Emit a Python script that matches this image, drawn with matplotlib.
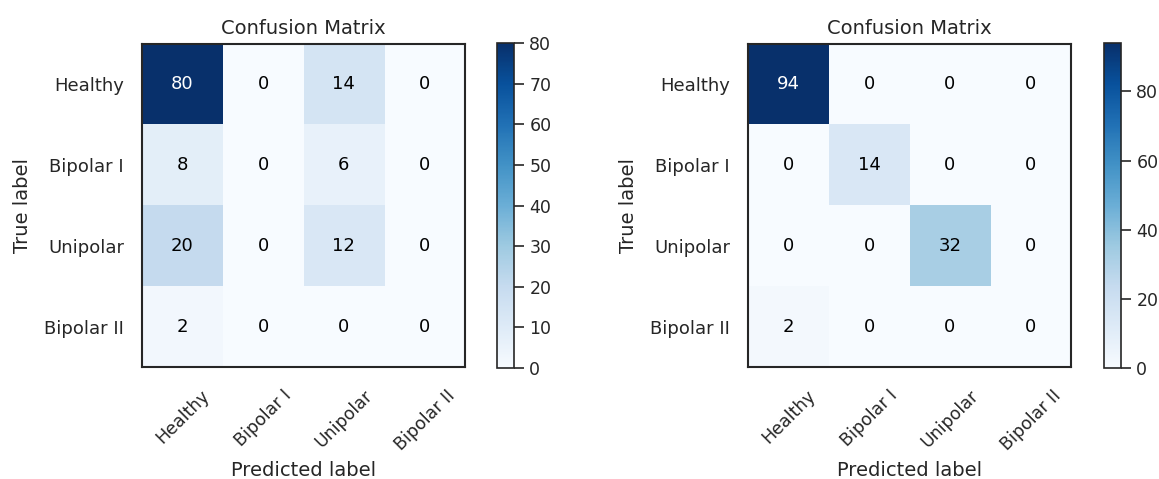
import matplotlib
matplotlib.use("Agg")
import matplotlib.pyplot as plt
import seaborn as sns
import numpy as np

sns.set_style("white")
plt.rcParams['font.family'] = ['DejaVu Sans']

classes = ["Healthy", "Bipolar I", "Unipolar", "Bipolar II"]

cm_left = np.array([[80, 0, 14, 0],
                    [8, 0, 6, 0],
                    [20, 0, 12, 0],
                    [2, 0, 0, 0]])

cm_right = np.array([[94, 0, 0, 0],
                     [0, 14, 0, 0],
                     [0, 0, 32, 0],
                     [2, 0, 0, 0]])


def plot_cm(fig, cm, ax_rect, cb_rect):
    ax = fig.add_axes(ax_rect)
    cax = fig.add_axes(cb_rect)
    im = ax.imshow(cm, interpolation='nearest', cmap=plt.cm.Blues)
    ax.set_title("Confusion Matrix", fontsize=14, color='.15', pad=7)
    cb = fig.colorbar(im, cax=cax)
    cb.ax.tick_params(labelsize=12.5, length=7, width=1.2, pad=4, colors='.15')
    cb.outline.set_linewidth(1.2)
    cb.outline.set_edgecolor('.15')
    ticks = np.arange(len(classes))
    ax.set_xticks(ticks)
    ax.set_xticklabels(classes, rotation=45, fontsize=12.5)
    ax.set_yticks(ticks)
    ax.set_yticklabels(classes, fontsize=13)
    ax.tick_params(axis='y', length=0, pad=13, colors='.15')
    ax.tick_params(axis='x', length=0, pad=14, colors='.15')
    thresh = cm.max() / 2.
    for i in range(cm.shape[0]):
        for j in range(cm.shape[1]):
            ax.text(j, i, format(cm[i, j], 'd'),
                    ha="center", va="center", fontsize=13,
                    color="white" if cm[i, j] > thresh else "black")
    ax.set_ylabel('True label', fontsize=14, color='.15', labelpad=9)
    ax.set_xlabel('Predicted label', fontsize=14, color='.15', labelpad=5)
    for s in ax.spines.values():
        s.set_linewidth(1.5)
        s.set_edgecolor('.15')
    return ax


fig = plt.figure(figsize=(11.59, 4.79), dpi=100)
plot_cm(fig, cm_left, [0.1225, 0.2317, 0.2787, 0.6785], [0.4288, 0.2317, 0.0147, 0.6785])
plot_cm(fig, cm_right, [0.6454, 0.2317, 0.2787, 0.6785], [0.9525, 0.2317, 0.0147, 0.6785])
fig.savefig("out.png", dpi=100)
